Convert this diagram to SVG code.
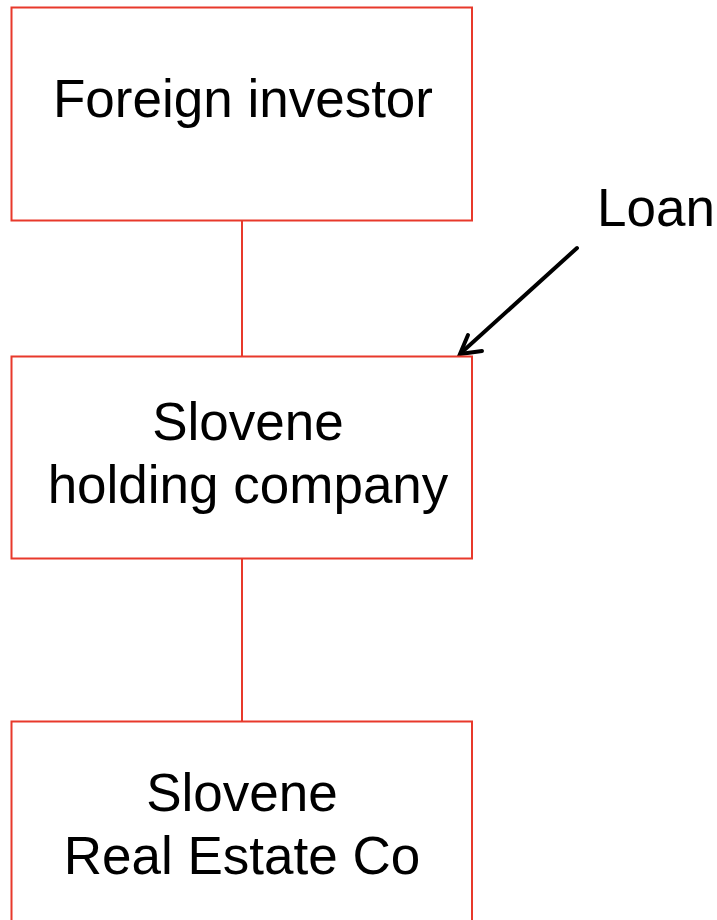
<svg xmlns="http://www.w3.org/2000/svg" width="717" height="920" viewBox="0 0 717 920">
<style>
.box{fill:#fff;stroke:#e8392b;stroke-width:2}
.t{font-family:"Liberation Sans",Arial,sans-serif;font-size:53px;fill:#000;text-anchor:middle}
.conn{stroke:#e8392b;stroke-width:2;fill:none}
.arrow{stroke:#000;stroke-width:4;fill:none;stroke-linecap:round}
</style>
<rect width="717" height="920" fill="#fff"/>
<g id="connectors">
<line class="conn" x1="242" y1="220" x2="242" y2="356"/>
<line class="conn" x1="242" y1="558" x2="242" y2="721"/>
<line class="arrow" x1="577" y1="248" x2="461" y2="353"/>
<polyline class="arrow" points="468,335 460,354 482,351"/>
</g>
<g id="foreign-investor">
<rect class="box" x="11.5" y="7.5" width="460.5" height="213"/>
<text class="t" x="243" y="117">Foreign investor</text>
</g>
<g id="holding">
<rect class="box" x="11.5" y="356.5" width="460.5" height="202"/>
<text class="t" x="248" y="440">Slovene</text>
<text class="t" x="248" y="503">holding company</text>
</g>
<g id="realestate">
<rect class="box" x="11.5" y="721.5" width="460.5" height="210"/>
<text class="t" x="242" y="811">Slovene</text>
<text class="t" x="242" y="874">Real Estate Co</text>
</g>
<g id="loan">
<text class="t" x="656" y="226">Loan</text>
</g>
</svg>
